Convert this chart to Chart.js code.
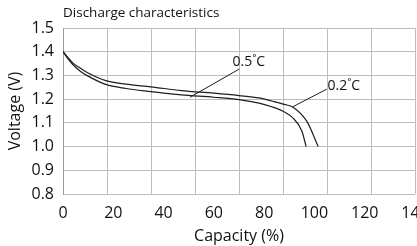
<!DOCTYPE html>
<html lang="en">
<head>
<meta charset="UTF-8">
<title>Discharge characteristics</title>
<script src="https://cdn.jsdelivr.net/npm/chart.js@4.4.1/dist/chart.umd.min.js"></script>
<style>
  html, body { margin: 0; padding: 0; background: #fff; }
</style>
</head>
<body>
<canvas id="discharge" width="417" height="246"></canvas>
<script>
// values
const capacity02 = [0, 2, 4, 7, 10, 17, 25, 35, 47, 60, 70, 78, 83, 88, 91.5, 97, 101.5];
const voltage02 = [1.40, 1.375, 1.352, 1.33, 1.31, 1.278, 1.263, 1.252, 1.236, 1.225, 1.215, 1.205, 1.192, 1.178, 1.166, 1.106, 1.00];
const capacity05 = [0, 2, 4, 7, 10, 17, 25, 35, 47, 60, 70, 78, 83, 87.5, 91.5, 95, 96.7];
const voltage05 = [1.40, 1.37, 1.345, 1.317, 1.297, 1.262, 1.245, 1.232, 1.218, 1.208, 1.198, 1.183, 1.168, 1.149, 1.12, 1.066, 1.00];

// leader lines from the curves to their labels (capacity, voltage)
const leader05 = [[50.5, 1.208], [70.1, 1.327]];
const leader02 = [[91.4, 1.168], [104.9, 1.242]];
const rateLabels = ['0.5˚C', '0.2˚C'];
const labelAt = [[67.4, 1.338], [105.2, 1.238]];

const xTicks = { min: 0, max: 140, step: 20, gridStep: 17.5 };
const yTicks = { min: 0.8, max: 1.5, step: 0.1 };

const ink = '#111';
const gridGrey = '#bdbdbd';
const fontFamily = '"Open Sans", sans-serif';

const toPoints = (xs, ys) => xs.map((x, i) => ({ x: x, y: ys[i] }));
const pairPoints = pts => pts.map(p => ({ x: p[0], y: p[1] }));

const curveStyle = {
    borderColor: '#1e1e1e',
    borderWidth: 1.2,
    pointRadius: 0,
    fill: false,
    cubicInterpolationMode: 'monotone'
};
const leaderStyle = {
    borderColor: '#1e1e1e',
    borderWidth: 1,
    pointRadius: 0,
    fill: false,
    tension: 0
};

const rateNotes = {
    id: 'rateNotes',
    afterDatasetsDraw(chart) {
        const ctx = chart.ctx;
        const xs = chart.scales.x, ys = chart.scales.y;
        ctx.save();
        ctx.fillStyle = ink;
        ctx.font = '14px ' + fontFamily;
        ctx.textAlign = 'left';
        ctx.textBaseline = 'alphabetic';
        rateLabels.forEach((txt, i) => {
            ctx.fillText(txt, xs.getPixelForValue(labelAt[i][0]), ys.getPixelForValue(labelAt[i][1]));
        });
        ctx.restore();
    }
};

new Chart(document.getElementById('discharge'), {
    type: 'line',
    data: {
        datasets: [
            Object.assign({ label: '0.2C', data: toPoints(capacity02, voltage02) }, curveStyle),
            Object.assign({ label: '0.5C', data: toPoints(capacity05, voltage05) }, curveStyle),
            Object.assign({ label: 'lead 0.5C', data: pairPoints(leader05) }, leaderStyle),
            Object.assign({ label: 'lead 0.2C', data: pairPoints(leader02) }, leaderStyle)
        ]
    },
    options: {
        responsive: false,
        animation: false,
        layout: { padding: { left: 0, right: 2, top: 0, bottom: 0 } },
        plugins: {
            legend: { display: false },
            tooltip: { enabled: false },
            title: {
                display: true,
                text: 'Discharge characteristics',
                align: 'start',
                fullSize: false,
                color: ink,
                font: { family: fontFamily, size: 13.5, weight: 'normal' },
                padding: { top: 5, bottom: 6.8 }
            }
        },
        scales: {
            x: {
                type: 'linear',
                min: xTicks.min,
                max: xTicks.max,
                grid: { display: false },
                border: { display: false },
                ticks: {
                    stepSize: xTicks.step,
                    padding: 2,
                    maxRotation: 0,
                    autoSkip: false,
                    color: ink,
                    font: { family: fontFamily, size: 16 }
                },
                title: {
                    display: true,
                    text: 'Capacity (%)',
                    color: ink,
                    font: { family: fontFamily, size: 16 },
                    padding: { top: 3, bottom: 0 }
                },
                afterFit(s) { s.height = 52; s.paddingLeft = 0; s.paddingRight = 0; }
            },
            xGrid: {
                type: 'linear',
                position: 'top',
                min: xTicks.min,
                max: xTicks.max,
                ticks: { display: false, stepSize: xTicks.gridStep },
                grid: { color: gridGrey, drawTicks: false },
                border: { display: false },
                afterFit(s) { s.height = 0; s.paddingLeft = 0; s.paddingRight = 0; }
            },
            y: {
                type: 'linear',
                min: yTicks.min,
                max: yTicks.max,
                ticks: {
                    stepSize: yTicks.step,
                    padding: 9,
                    color: ink,
                    font: { family: fontFamily, size: 16 },
                    callback: v => v.toFixed(1)
                },
                grid: { color: gridGrey, drawTicks: false },
                border: { color: '#9a9a9a' },
                title: {
                    display: true,
                    text: 'Voltage (V)',
                    color: ink,
                    font: { family: fontFamily, size: 16 },
                    padding: { top: 6, bottom: 0 }
                },
                afterFit(s) { s.width = 63; }
            }
        }
    },
    plugins: [rateNotes]
});
</script>
</body>
</html>
